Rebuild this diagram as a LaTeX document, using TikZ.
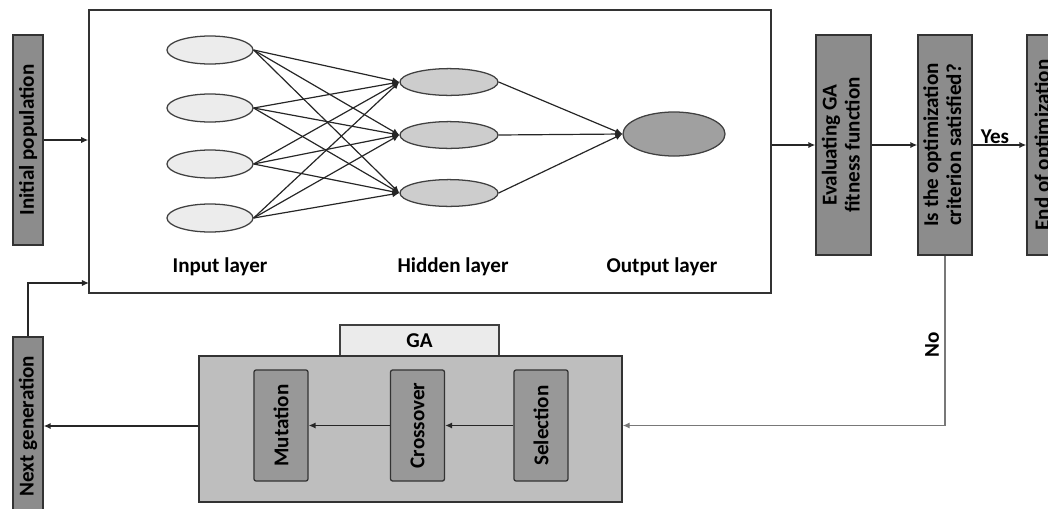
\documentclass[tikz,border=0pt]{standalone}
\usepackage{graphicx}
\usepackage{fontspec}
\setmainfont{Carlito}
\usepackage{tikz}
\usetikzlibrary{arrows.meta}
\usetikzlibrary{positioning, shapes.geometric}

\definecolor{boxgray}{RGB}{140,140,140}
\definecolor{gagray}{RGB}{190,190,190}
\definecolor{opgray}{RGB}{152,152,152}
\definecolor{tabgray}{RGB}{235,235,235}
\definecolor{ingray}{RGB}{236,236,236}
\definecolor{hidgray}{RGB}{205,205,205}
\definecolor{outgray}{RGB}{160,160,160}
\definecolor{linegray}{RGB}{120,120,120}

\begin{document}
\begin{tikzpicture}[
      >={Latex[length=5pt,width=4.5pt]},
      x=0.025cm, y=-0.025cm,
      font=\bfseries\fontsize{15}{16.5}\selectfont,
      arr/.style={->, line width=1pt, black!85},
      nn_edge/.style={->, line width=0.85pt, black!85},
      step_box/.style={draw=black!80, fill=boxgray, line width=0.9pt, inner sep=0pt, align=center},
      op_box/.style={draw=black!80, fill=opgray, line width=0.9pt, rounded corners=1.5pt, inner sep=0pt,
                     minimum width=1.35cm, minimum height=2.775cm},
      in_node/.style={ellipse, draw=black!75, fill=ingray, line width=0.9pt, minimum width=2.15cm, minimum height=0.7cm},
      hid_node/.style={ellipse, draw=black!75, fill=hidgray, line width=0.9pt, minimum width=2.45cm, minimum height=0.67cm},
      out_node/.style={ellipse, draw=black!75, fill=outgray, line width=0.9pt, minimum width=2.55cm, minimum height=1.1cm}
    ]
    \useasboundingbox (0,0) rectangle (1048,508);

    % Rete neurale
    \node[draw=black!80, line width=0.9pt, minimum width=17.05cm, minimum height=7.075cm] (nnbox) at (430,151.5) {};
    \foreach \i/\y in {1/50,2/108,3/164,4/218}
      \node[in_node] (in\i) at (210,\y) {};
    \foreach \j/\y in {1/82,2/135,3/193}
      \node[hid_node] (hid\j) at (449,\y) {};
    \node[out_node] (out) at (674,134) {};
    \foreach \i in {1,...,4}
      \foreach \j in {1,...,3}
        \draw[nn_edge] (in\i.east) -- (hid\j.west);
    \foreach \j in {1,...,3}
      \draw[nn_edge] (hid\j.east) -- (out.west);
    \node (lin) at (220,267) {Input layer};
    \node (lhid) at (453,267) {Hidden layer};
    \node (lout) at (662,267) {Output layer};

    % Blocchi verticali
    \node[step_box, minimum width=0.75cm, minimum height=5.25cm] (initpop) at (28,140) {\rotatebox{90}{Initial population}};
    \node[step_box, minimum width=0.75cm, minimum height=4.45cm] (nextgen) at (28,426) {\rotatebox{90}{Next generation}};
    \node[step_box, minimum width=1.375cm, minimum height=5.5cm] (eval) at (843.5,145)
      {\rotatebox{90}{\begin{tabular}{@{}c@{}}Evaluating GA\\fitness function\end{tabular}}};
    \node[step_box, minimum width=1.35cm, minimum height=5.5cm] (crit) at (945,145)
      {\rotatebox{90}{\begin{tabular}{@{}c@{}}Is the optimization\\criterion satisfied?\end{tabular}}};
    \node[step_box, minimum width=0.825cm, minimum height=5.5cm] (fine) at (1043.5,145) {\rotatebox{90}{End of optimization}};

    % GA
    \node[draw=black!75, fill=tabgray, line width=0.9pt, minimum width=3.975cm, minimum height=0.775cm] (gatab) at (419.5,340.5) {GA};
    \node[draw=black!80, fill=gagray, line width=0.9pt, minimum width=10.575cm, minimum height=3.65cm] (ga) at (410.5,429) {};
    \node[op_box] (mut) at (281,425.5) {\rotatebox{90}{Mutation}};
    \node[op_box] (cross) at (417.5,425.5) {\rotatebox{90}{Crossover}};
    \node[op_box] (sel) at (541,425.5) {\rotatebox{90}{Selection}};

    % Frecce
    \draw[arr] (initpop.east) -- (initpop.east -| nnbox.west);
    \coordinate (fb) at (89,283);
    \draw[arr] (nextgen.north) |- (fb);
    \draw[arr] (nnbox.east |- eval.west) -- (eval.west);
    \draw[arr] (eval.east) -- (crit.west);
    \draw[arr] (crit.east) -- (fine.west);
    \node[anchor=south, inner sep=1pt] (yes) at (995,145) {Yes};
    \draw[arr, draw=linegray] (crit.south) |- (ga.east |- sel.east);
    \node[rotate=90] (no) at (932,345) {No};
    \draw[arr] (sel.west) -- (cross.east);
    \draw[arr] (cross.west) -- (mut.east);
    \draw[arr] (ga.west |- nextgen.east) -- (nextgen.east);
  \end{tikzpicture}
\end{document}
